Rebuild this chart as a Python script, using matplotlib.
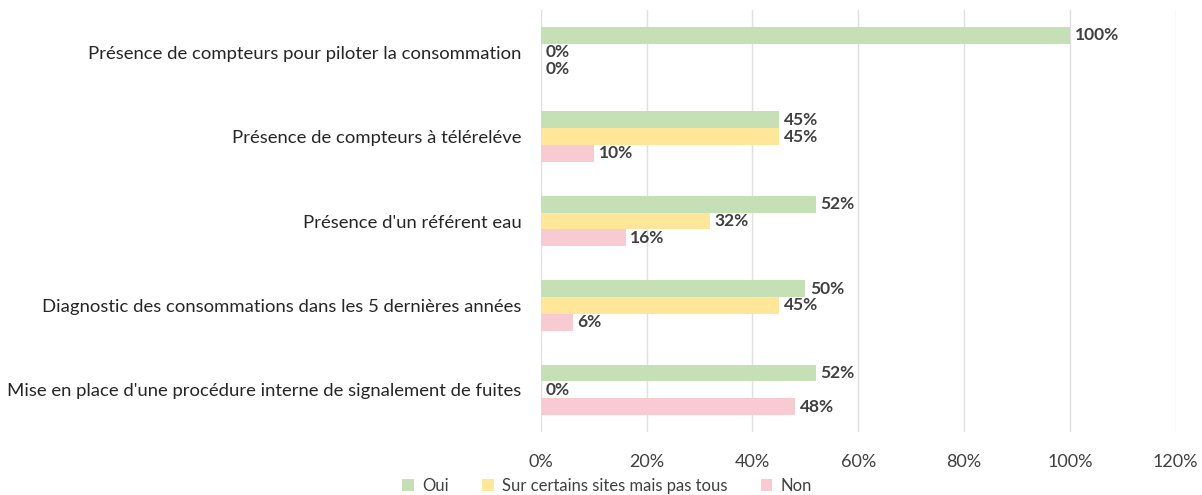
import matplotlib
matplotlib.use("Agg")
import matplotlib.pyplot as plt
import numpy as np

categories = [
    "Présence de compteurs pour piloter la consommation",
    "Présence de compteurs à téléreléve",
    "Présence d'un référent eau",
    "Diagnostic des consommations dans les 5 dernières années",
    "Mise en place d'une procédure interne de signalement de fuites",
]
series_names = ["Oui", "Sur certains sites mais pas tous", "Non"]
oui = [100, 45, 52, 50, 52]
certains = [0, 45, 32, 45, 0]
non = [0, 10, 16, 6, 48]
xticks = [0, 20, 40, 60, 80, 100, 120]

colors = ["#c5e0b4", "#ffe699", "#f8cbd3"]
plt.rcParams['font.family'] = ['Lato', 'DejaVu Sans']

fig = plt.figure(figsize=(12.02, 4.95), dpi=100)
ax = fig.add_axes([0.450, 0.127, 0.528, 0.853])

y = np.arange(len(categories))
h = 0.2
for i, (vals, c, name) in enumerate(zip([oui, certains, non], colors, series_names)):
    pos = y + (i - 1) * h
    ax.barh(pos, vals, height=h, color=c, label=name, zorder=2)
    for p, v in zip(pos, vals):
        ax.text(v + 0.9, p, f"{v}%", va="center", ha="left", fontsize=12.5,
                color="#404040", fontweight="bold")

ax.set_xlim(0, 120)
ax.set_ylim(len(categories) - 0.5, -0.5)
ax.set_xticks(xticks)
ax.set_xticklabels([f"{t}%" for t in xticks], fontsize=13, color="#404040")
ax.set_yticks(y)
ax.set_yticklabels(categories, fontsize=13.3, color="#262626")
ax.tick_params(axis="both", length=0)
ax.tick_params(axis="x", pad=16)
ax.tick_params(axis="y", pad=14)
ax.grid(axis="x", color="#e0e0e0", linewidth=1, zorder=0)
for s in ax.spines.values():
    s.set_visible(False)

handles, labels = ax.get_legend_handles_labels()
fig.legend(handles, labels, loc="center", bbox_to_anchor=(0.505, 0.018), ncol=3,
           frameon=False, fontsize=12, handlelength=0.7, handleheight=0.7,
           columnspacing=2.0, handletextpad=0.5, labelcolor="#404040")

fig.savefig("out.png", dpi=100)
